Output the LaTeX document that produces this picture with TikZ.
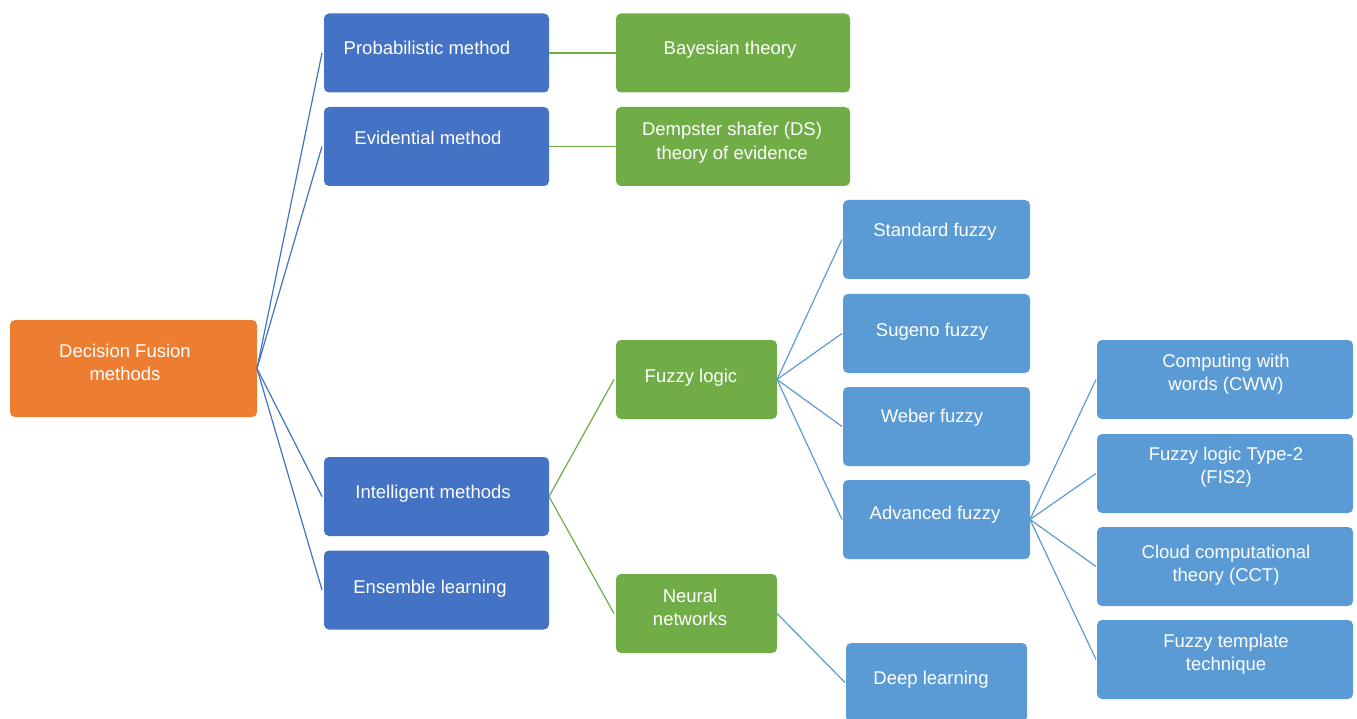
\documentclass[tikz,border=0pt]{standalone}
\usepackage{fontspec}
\setmainfont{Liberation Sans}
\definecolor{dblue}{HTML}{4472C4}
\definecolor{lblue}{HTML}{5B9BD5}
\definecolor{dgreen}{HTML}{70AD47}
\definecolor{orng}{HTML}{ED7D31}
\newcommand{\st}{\rule[-7pt]{0pt}{23.5pt}}
\tikzset{
  box/.style={fill=#1, draw=none, rounded corners=5pt, inner sep=0pt, outer sep=0pt},
  txt/.style={text=white, font=\fontsize{18.5}{23.5}\selectfont, align=center, inner sep=0pt},
  link/.style={draw=#1, line width=1.2pt}
}
\begin{document}
\begin{tikzpicture}[x=1pt,y=-1pt]
\useasboundingbox (0,0) rectangle (1357,719);
% boxes
\node[box=orng, minimum width=247pt, minimum height=97pt] (dec) at (133.5,368.5) {};
\node[box=dblue, minimum width=225pt, minimum height=79pt] (prob) at (436.5,53) {};
\node[box=dblue, minimum width=225pt, minimum height=79pt] (evid) at (436.5,146.5) {};
\node[box=dblue, minimum width=225pt, minimum height=79pt] (intel) at (436.5,496.5) {};
\node[box=dblue, minimum width=225pt, minimum height=79pt] (ens) at (436.5,590) {};
\node[box=dgreen, minimum width=234pt, minimum height=79pt] (bay) at (733,53) {};
\node[box=dgreen, minimum width=234pt, minimum height=79pt] (dem) at (733,146.5) {};
\node[box=dgreen, minimum width=161pt, minimum height=79pt] (fl) at (696.5,379.5) {};
\node[box=dgreen, minimum width=161pt, minimum height=79pt] (nn) at (696.5,613.5) {};
\node[box=lblue, minimum width=187pt, minimum height=79pt] (std) at (936.5,239.5) {};
\node[box=lblue, minimum width=187pt, minimum height=79pt] (sug) at (936.5,333.5) {};
\node[box=lblue, minimum width=187pt, minimum height=79pt] (web) at (936.5,426.5) {};
\node[box=lblue, minimum width=187pt, minimum height=79pt] (adv) at (936.5,519.5) {};
\node[box=lblue, minimum width=181pt, minimum height=79pt] (deep) at (936.5,682.5) {};
\node[box=lblue, minimum width=256pt, minimum height=79pt] (cww) at (1225,379.5) {};
\node[box=lblue, minimum width=256pt, minimum height=79pt] (fis) at (1225,473.5) {};
\node[box=lblue, minimum width=256pt, minimum height=79pt] (cct) at (1225,566.5) {};
\node[box=lblue, minimum width=256pt, minimum height=79pt] (tmp) at (1225,659.5) {};
% texts
\node[txt] (dect) at (125,364) {\st Decision Fusion\\\st methods};
\node[txt] (probt) at (427,50) {\st Probabilistic method};
\node[txt] (evidt) at (428,140) {\st Evidential method};
\node[txt] (intelt) at (433,494) {\st Intelligent methods};
\node[txt] (enst) at (430,589) {\st Ensemble learning};
\node[txt] (bayt) at (730,50) {\st Bayesian theory};
\node[txt] (demt) at (732,143) {\st Dempster shafer (DS)\\\st theory of evidence};
\node[txt] (flt) at (691,378) {\st Fuzzy logic};
\node[txt] (nnt) at (690,609) {\st Neural\\\st networks};
\node[txt] (stdt) at (935,232) {\st Standard fuzzy};
\node[txt] (sugt) at (932,332) {\st Sugeno fuzzy};
\node[txt] (webt) at (932,418) {\st Weber fuzzy};
\node[txt] (advt) at (935,515) {\st Advanced fuzzy};
\node[txt] (deept) at (931,680) {\st Deep learning};
\node[txt] (cwwt) at (1226,374) {\st Computing with\\\st words (CWW)};
\node[txt] (fist) at (1226,467) {\st Fuzzy logic Type-2\\\st (FIS2)};
\node[txt] (cctt) at (1226,565) {\st Cloud computational\\\st theory (CCT)};
\node[txt] (tmpt) at (1226,654) {\st Fuzzy template\\\st technique};
% connectors
\foreach \t in {prob,evid,intel,ens} \draw[link=dblue] (dec.east) -- ([xshift=-2pt]\t.west);
\draw[link=dgreen] (prob.east) -- (bay.west);
\draw[link=dgreen] (evid.east) -- (dem.west);
\draw[link=dgreen] (intel.east) -- ([xshift=-2pt]fl.west);
\draw[link=dgreen] (intel.east) -- ([xshift=-2pt]nn.west);
\foreach \t in {std,sug,web,adv} \draw[link=lblue] (fl.east) -- ([xshift=-1pt]\t.west);
\draw[link=lblue] (nn.east) -- ([xshift=-1pt]deep.west);
\foreach \t in {cww,fis,cct,tmp} \draw[link=lblue] (adv.east) -- ([xshift=-1pt]\t.west);
\end{tikzpicture}
\end{document}
